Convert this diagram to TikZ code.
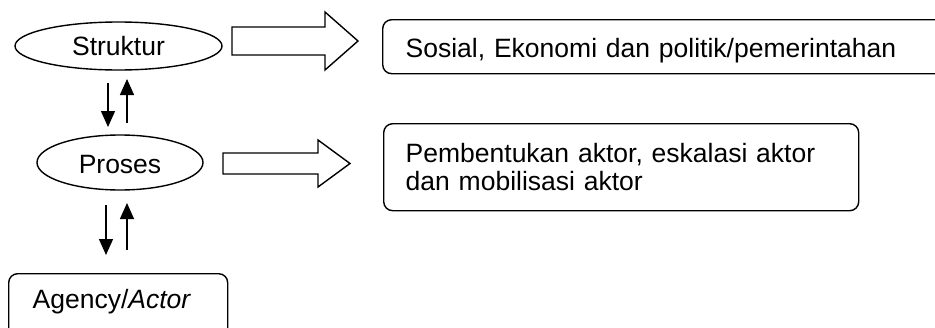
\documentclass[tikz,border=0pt]{standalone}
\usepackage{fontspec}
\setmainfont{Liberation Sans}
\usetikzlibrary{shapes.geometric,arrows.meta}
\begin{document}
\begin{tikzpicture}[x=1pt,y=-1pt,
  line width=1.4pt,
  txt/.style={font=\fontsize{26.5}{28}\selectfont},
  oval/.style={ellipse,draw,inner sep=0pt,txt},
  rbox/.style={draw,rounded corners=9pt,txt,align=left,inner ysep=0pt},
  fat/.style={draw,line width=1.4pt,line join=miter},
  arr/.style={-{Triangle[width=14pt,length=16pt]}}]
\useasboundingbox (0,0) rectangle (935,327);
\clip (0,0) rectangle (935,327);
\fill[white] (0,0) rectangle (935,327);
% ovals
\node[oval,minimum width=207pt,minimum height=48pt,text height=19.3pt,text depth=0pt] (S) at (118.5,46) {Struktur};
\node[oval,minimum width=166pt,minimum height=55pt,text height=22pt,text depth=1pt] (P) at (120,162.5) {Proses};
% boxes
\node[rbox,anchor=north west,inner xsep=23pt,text width=560pt,minimum height=54pt,text height=23.5pt,text depth=1.5pt] (B1) at (382,19) {Sosial, Ekonomi dan politik/pemerintahan};
\node[rbox,anchor=north west,inner xsep=22pt,text width=431pt,minimum height=87pt] (B2) at (383,123) {Pembentukan aktor, eskalasi aktor\\dan mobilisasi aktor};
\node[rbox,anchor=north west,inner xsep=24pt,text width=171pt,text height=20pt,text depth=20pt,inner ysep=15pt] (A) at (8,273) {Agency/\textit{Actor}};
% hollow arrows
\draw[fat] (232,27) -- (325,27) -- (325,12) -- (358,41) -- (325,70) -- (325,55) -- (232,55) -- cycle;
\draw[fat] (223,153) -- (318,153) -- (318,140) -- (350,163.5) -- (318,187) -- (318,174) -- (223,174) -- cycle;
% vertical arrows
\coordinate (d1a) at (108,83);
\coordinate (d1b) at (108,127);
\coordinate (u1a) at (127,123);
\coordinate (u1b) at (127,79);
\coordinate (d2a) at (106,205);
\coordinate (d2b) at (106,255);
\coordinate (u2a) at (127,250);
\coordinate (u2b) at (127,203);
\draw[arr] (d1a) -- (d1b);
\draw[arr] (u1a) -- (u1b);
\draw[arr] (d2a) -- (d2b);
\draw[arr] (u2a) -- (u2b);
\end{tikzpicture}
\end{document}
